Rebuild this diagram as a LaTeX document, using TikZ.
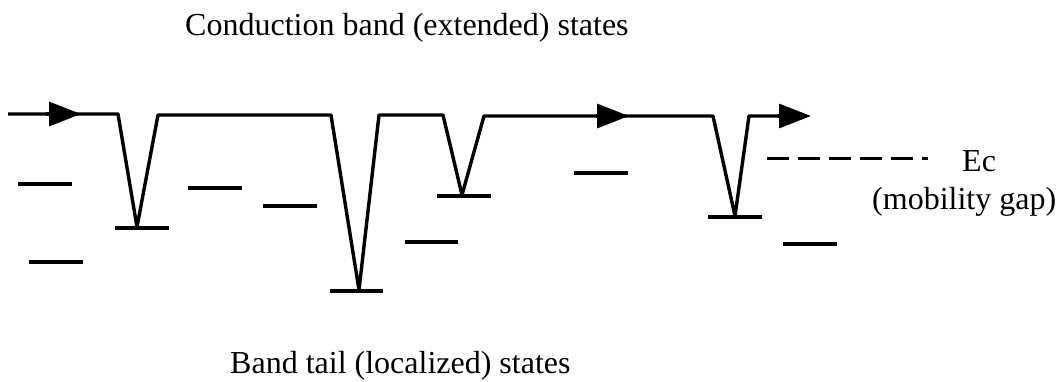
\documentclass[tikz,border=0pt]{standalone}
\usepackage{fontspec}
\setmainfont{Liberation Serif}
\usetikzlibrary{arrows.meta}
\begin{document}
\begin{tikzpicture}[x=1pt,y=-1pt,
  path/.style={line width=3.4pt, line join=round},
  level/.style={line width=3.4pt},
  tip/.style={-{Triangle[length=32pt,width=24pt]}},
  lbl/.style={inner sep=0pt, anchor=base west, font=\fontsize{32}{38}\selectfont}]
\useasboundingbox (0,0) rectangle (1060,381);
% extended-state path with trapping wells
\draw[path] (8,114) -- (118,114) -- (137,227) -- (158,115) -- (331,115)
  -- (359,290) -- (379,115) -- (443,115) -- (462,195) -- (484,116)
  -- (713,116) -- (735,216) -- (749,116) -- (782,116);
\draw[path, tip] (46,114) -- (81,114);
\draw[path, tip] (596,116) -- (629,116);
\draw[path, tip] (778,116) -- (811,116);
% localized levels
\foreach \xa/\xb/\yy in {18/72/184, 29/83/262, 115/169/228, 188/242/188,
  263/317/206, 330/383/291, 405/458/242, 437/491/196, 574/628/173,
  708/762/217, 783/837/244}
  \draw[level] (\xa,\yy) -- (\xb,\yy);
% mobility edge
\coordinate (ecstart) at (767,158);
\coordinate (ecend) at (928,158);
\draw[line width=3pt, dash pattern=on 22pt off 9pt] (ecstart) -- (ecend);
% labels
\node[lbl] (cb) at (185,35) {Conduction band (extended) states};
\node[lbl] (bt) at (230,373) {Band tail (localized) states};
\node[lbl] (ec) at (962,171) {Ec};
\node[lbl] (mg) at (872,209) {(mobility gap)};
\end{tikzpicture}
\end{document}
